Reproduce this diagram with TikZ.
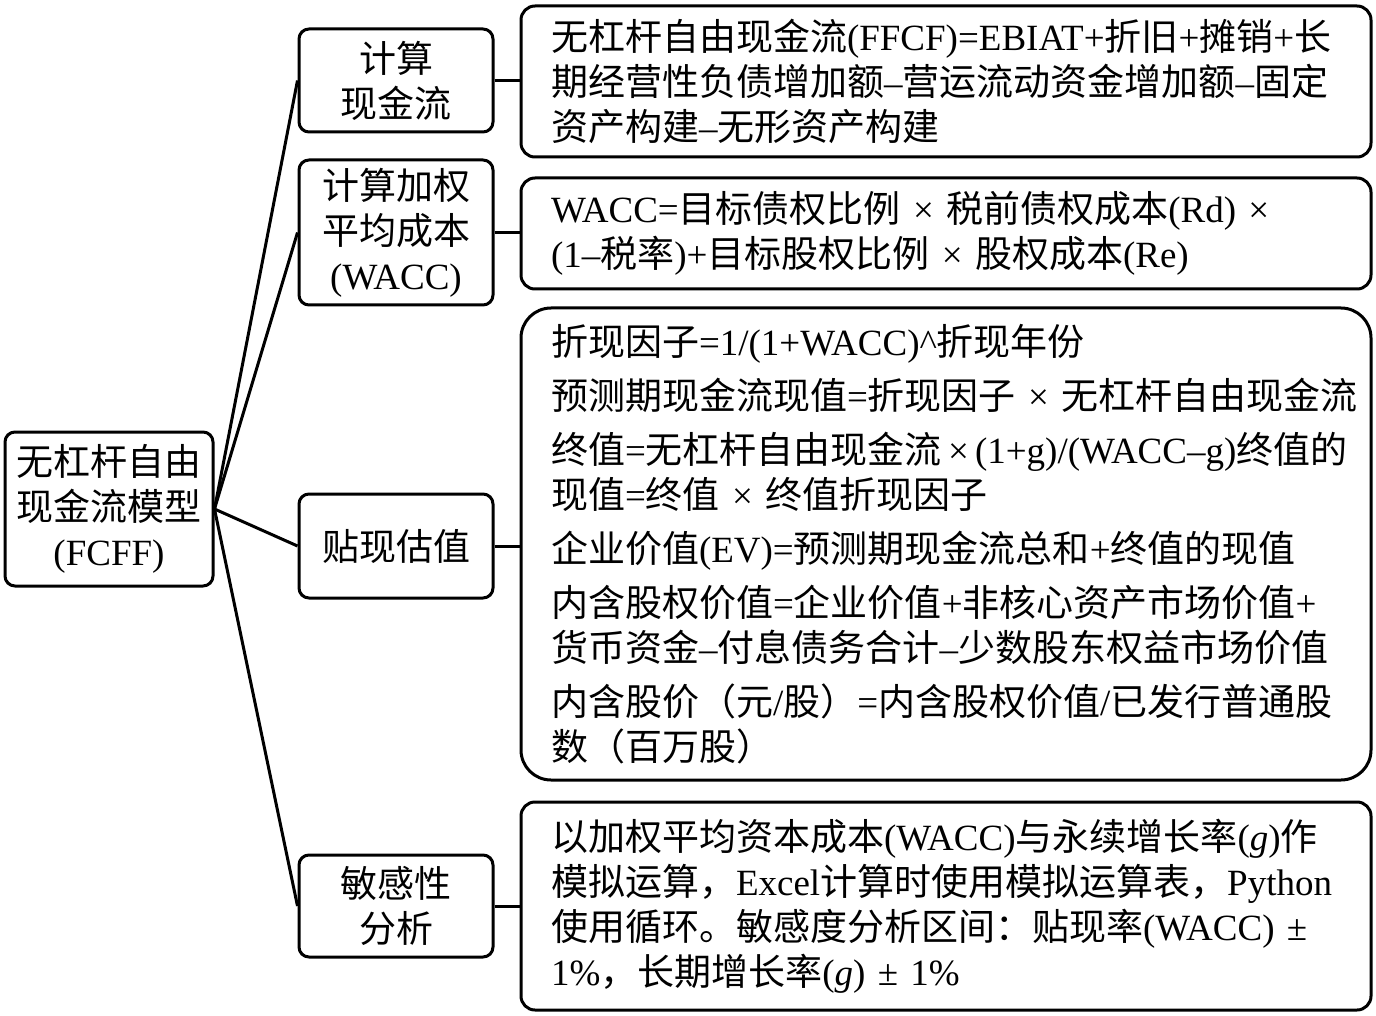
\documentclass[tikz,border=0pt]{standalone}
\usepackage{fontspec}
\usepackage{tikz}
\setmainfont{Liberation Serif}
\newfontfamily\cjk{Noto Sans CJK SC}
\XeTeXinterchartokenstate=1
\newXeTeXintercharclass\cjkclass
\newcount\cjkcode
\cjkcode="3000
\loop\ifnum\cjkcode<"A000 \XeTeXcharclass\cjkcode=\cjkclass\advance\cjkcode by 1 \repeat
\cjkcode="FF00
\loop\ifnum\cjkcode<"FFF0 \XeTeXcharclass\cjkcode=\cjkclass\advance\cjkcode by 1 \repeat
\XeTeXinterchartoks 0 \cjkclass={\cjk}
\XeTeXinterchartoks 4095 \cjkclass={\cjk}
\XeTeXinterchartoks \cjkclass 0={\rmfamily}
\XeTeXinterchartoks \cjkclass 4095={\rmfamily}
\exhyphenpenalty=10000
\hyphenpenalty=10000
\tikzset{
    fcnode/.style={draw, line width=1.5pt, rounded corners=5pt, inner sep=0pt, font=\fontsize{18.5pt}{22.5pt}\selectfont},
    rootnode/.style={fcnode, align=center, minimum width=104pt, minimum height=77pt},
    partnode/.style={fcnode, align=center, minimum width=97pt, minimum height=#1},
    infonode/.style={fcnode, rounded corners=7pt, align=left, text width=395pt, inner xsep=15pt, minimum height=#1},
    fcline/.style={line width=1.5pt}
}
\begin{document}
\begin{tikzpicture}[x=0.5pt, y=-0.5pt]
    \useasboundingbox (0,0) rectangle (1376,1016);
    \node[rootnode] (root) at (109,509) {无杠杆自由\\现金流模型\\(FCFF)};
    \node[partnode=51.5pt] (cash) at (396,80.5) {计算\\现金流};
    \node[partnode=72.5pt] (wacc) at (396,232.5) {计算加权\\平均成本\\(WACC)};
    \node[partnode=52pt] (disc) at (396,546) {贴现估值};
    \node[partnode=51pt] (sens) at (396,906) {敏感性\\分析};
    \node[infonode=75.5pt] (cashinfo) at (946,81.5) {无杠杆自由现金流(FFCF)=EBIAT+折旧+摊销+长\\期经营性负债增加额–营运流动资金增加额–固定\\资产构建–无形资产构建};
    \node[infonode=55.5pt] (waccinfo) at (946,233.5) {WACC=目标债权比例~×~税前债权成本(Rd)~×\\(1–税率)+目标股权比例~×~股权成本(Re)};
    \node[infonode=236pt, rounded corners=15pt] (discinfo) at (946,544) {折现因子=1/(1+WACC)\textasciicircum 折现年份\\[4.5pt]预测期现金流现值=折现因子~×~无杠杆自由现金流\\[4.5pt]终值=无杠杆自由现金流\,×\,(1+g)/(WACC–g)终值的\\现值=终值~×~终值折现因子\\[4.5pt]企业价值(EV)=预测期现金流总和+终值的现值\\[4.5pt]内含股权价值=企业价值+非核心资产市场价值+\\货币资金–付息债务合计–少数股东权益市场价值\\[4.5pt]内含股价（元/股）=内含股权价值/已发行普通股\\数（百万股）};
    \node[infonode=104pt] (sensinfo) at (946,906) {以加权平均资本成本(WACC)与永续增长率(\textit{g})作\\模拟运算，Excel计算时使用模拟运算表，Python\\使用循环。敏感度分析区间：贴现率(WACC)~±\\1\%，长期增长率(\textit{g})~±~1\%};
    \draw[fcline] (root.east) -- (cash.west);
    \draw[fcline] (root.east) -- (wacc.west);
    \draw[fcline] (root.east) -- (disc.west);
    \draw[fcline] (root.east) -- (sens.west);
    \draw[fcline] (cash.east) -- (cash.east -| cashinfo.west);
    \draw[fcline] (wacc.east) -- (wacc.east -| waccinfo.west);
    \draw[fcline] (disc.east) -- (disc.east -| discinfo.west);
    \draw[fcline] (sens.east) -- (sens.east -| sensinfo.west);
\end{tikzpicture}
\end{document}
